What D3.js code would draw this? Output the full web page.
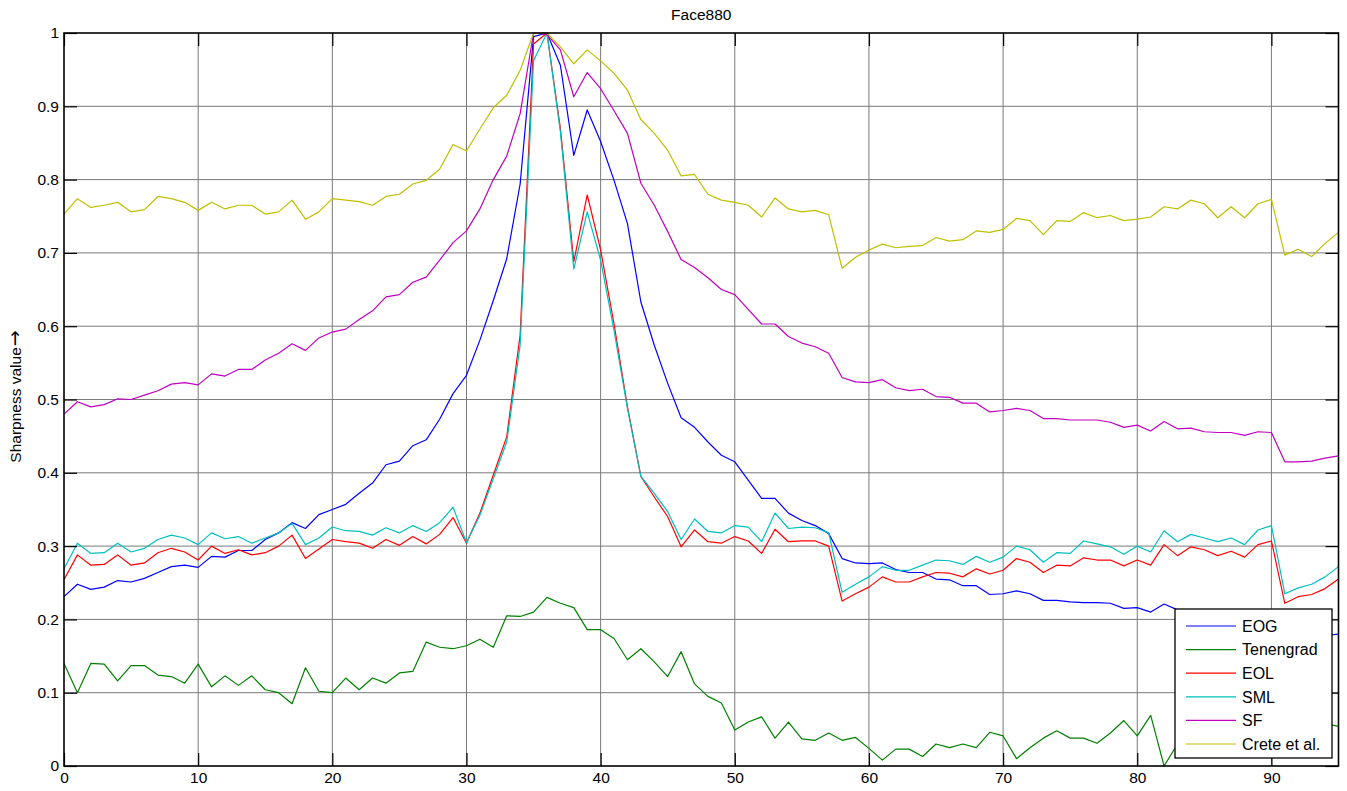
<!DOCTYPE html>
<html>
<head>
<meta charset="utf-8">
<script src="https://cdn.jsdelivr.net/npm/d3@7"></script>
<style>
  html, body { margin: 0; padding: 0; background: #fff; }
  svg text { font-family: "Liberation Sans", Arial, "DejaVu Sans", sans-serif; fill: #000; }
</style>
</head>
<body>
<svg id="chart" width="1347" height="791"></svg>
<script>
// Frame indices along the focus sweep
const frames = d3.range(0, 96);

const eog = [0.231,0.248,0.241,0.244,0.253,0.251,0.256,0.264,0.272,0.274,0.271,0.286,0.285,0.294,0.294,0.309,0.318,0.332,0.324,0.343,
  0.350,0.357,0.372,0.386,0.411,0.416,0.437,0.445,0.473,0.508,0.533,0.581,0.635,0.692,0.794,0.995,1.000,0.956,0.833,0.895,
  0.852,0.799,0.740,0.633,0.574,0.522,0.475,0.462,0.442,0.424,0.415,0.390,0.365,0.365,0.345,0.335,0.328,0.317,0.283,0.277,
  0.276,0.277,0.268,0.264,0.264,0.255,0.254,0.246,0.246,0.234,0.235,0.239,0.235,0.226,0.226,0.224,0.223,0.223,0.222,0.215,
  0.216,0.210,0.221,0.213,0.210,0.212,0.208,0.210,0.205,0.210,0.212,0.172,0.174,0.173,0.178,0.180];

const tenengrad = [0.140,0.100,0.140,0.139,0.116,0.137,0.137,0.124,0.122,0.113,0.139,0.108,0.123,0.110,0.123,0.104,0.100,0.085,0.134,0.102,
  0.100,0.120,0.104,0.120,0.113,0.127,0.129,0.169,0.162,0.160,0.164,0.173,0.162,0.205,0.204,0.210,0.230,0.222,0.216,0.186,
  0.186,0.174,0.145,0.160,0.142,0.122,0.156,0.112,0.095,0.086,0.049,0.060,0.067,0.038,0.060,0.037,0.035,0.045,0.035,0.039,
  0.024,0.008,0.023,0.023,0.013,0.030,0.025,0.030,0.025,0.046,0.041,0.010,0.025,0.038,0.048,0.038,0.038,0.031,0.045,0.062,
  0.041,0.069,0.000,0.030,0.045,0.040,0.050,0.045,0.055,0.050,0.060,0.050,0.055,0.052,0.058,0.054];

const eol = [0.254,0.288,0.274,0.275,0.288,0.274,0.277,0.291,0.297,0.292,0.281,0.300,0.290,0.295,0.288,0.291,0.300,0.315,0.283,0.296,
  0.309,0.306,0.304,0.297,0.309,0.301,0.313,0.303,0.316,0.339,0.304,0.345,0.397,0.449,0.588,0.985,1.000,0.870,0.688,0.779,
  0.704,0.603,0.490,0.395,0.367,0.340,0.299,0.322,0.306,0.304,0.313,0.307,0.290,0.323,0.306,0.307,0.307,0.300,0.225,0.235,
  0.244,0.258,0.251,0.251,0.258,0.264,0.263,0.258,0.269,0.262,0.267,0.283,0.278,0.264,0.274,0.273,0.284,0.281,0.281,0.273,
  0.281,0.274,0.302,0.287,0.299,0.295,0.287,0.293,0.285,0.302,0.307,0.222,0.231,0.234,0.242,0.255];

const sml = [0.269,0.304,0.290,0.291,0.304,0.292,0.297,0.309,0.315,0.311,0.302,0.318,0.310,0.313,0.304,0.311,0.318,0.331,0.302,0.311,
  0.326,0.321,0.320,0.315,0.325,0.318,0.328,0.320,0.332,0.353,0.305,0.342,0.392,0.442,0.574,0.962,1.000,0.865,0.678,0.756,
  0.690,0.594,0.488,0.395,0.372,0.347,0.309,0.337,0.320,0.318,0.328,0.326,0.306,0.345,0.324,0.326,0.325,0.318,0.237,0.248,
  0.258,0.272,0.267,0.267,0.274,0.281,0.280,0.275,0.286,0.278,0.285,0.300,0.295,0.278,0.291,0.290,0.307,0.303,0.299,0.289,
  0.300,0.292,0.321,0.306,0.316,0.311,0.306,0.311,0.302,0.322,0.328,0.235,0.243,0.248,0.258,0.272];

const sf = [0.480,0.497,0.490,0.493,0.501,0.500,0.506,0.512,0.521,0.523,0.520,0.535,0.532,0.541,0.541,0.554,0.563,0.576,0.567,0.584,
  0.592,0.596,0.609,0.621,0.640,0.643,0.660,0.667,0.690,0.714,0.730,0.760,0.800,0.832,0.890,1.000,0.998,0.977,0.913,0.946,
  0.924,0.894,0.863,0.795,0.765,0.729,0.691,0.680,0.666,0.650,0.643,0.623,0.603,0.603,0.586,0.577,0.572,0.563,0.530,0.524,
  0.523,0.527,0.516,0.512,0.514,0.504,0.503,0.495,0.495,0.483,0.485,0.488,0.485,0.474,0.474,0.472,0.472,0.472,0.469,0.462,
  0.465,0.457,0.470,0.460,0.461,0.456,0.455,0.455,0.451,0.456,0.455,0.415,0.415,0.416,0.420,0.423];

const crete = [0.753,0.774,0.762,0.765,0.769,0.756,0.759,0.777,0.774,0.769,0.758,0.769,0.760,0.765,0.765,0.753,0.756,0.772,0.746,0.756,
  0.774,0.772,0.770,0.765,0.777,0.780,0.794,0.799,0.814,0.848,0.839,0.869,0.898,0.915,0.949,1.000,1.000,0.981,0.958,0.977,
  0.962,0.945,0.922,0.882,0.863,0.840,0.805,0.807,0.780,0.772,0.769,0.765,0.749,0.775,0.760,0.756,0.758,0.752,0.679,0.694,
  0.704,0.712,0.707,0.709,0.710,0.721,0.716,0.718,0.730,0.728,0.732,0.747,0.744,0.725,0.744,0.743,0.755,0.748,0.751,0.744,
  0.746,0.749,0.763,0.760,0.772,0.767,0.748,0.763,0.748,0.767,0.773,0.697,0.705,0.695,0.713,0.728];

const seriesNames = ["EOG", "Tenengrad", "EOL", "SML", "SF", "Crete et al."];
const seriesValues = [eog, tenengrad, eol, sml, sf, crete];
const seriesColors = ["#0000ff", "#008000", "#ff0000", "#00bfbf", "#bf00bf", "#bfbf00"];

const xTicks = [0, 10, 20, 30, 40, 50, 60, 70, 80, 90];
const yTicks = [0, 0.1, 0.2, 0.3, 0.4, 0.5, 0.6, 0.7, 0.8, 0.9, 1];
const yTickLabels = ["0", "0.1", "0.2", "0.3", "0.4", "0.5", "0.6", "0.7", "0.8", "0.9", "1"];

const titleText = "Face880";
const yLabelText = "Sharpness value";
const yLabelArrow = "\u2192";

// Plot frame
const svg = d3.select("#chart");
const plotL = 64, plotR = 1338.5, plotT = 33, plotB = 766;
const fontSize = 15.5;

const x = d3.scaleLinear().domain([0, 95]).range([plotL, plotR]);
const y = d3.scaleLinear().domain([0, 1]).range([plotB, plotT]);

// Grid lines
const grid = svg.append("g").attr("class", "grid");
grid.selectAll("line.v").data(xTicks.filter(d => d > 0)).join("line")
  .attr("x1", d => x(d)).attr("x2", d => x(d))
  .attr("y1", plotT).attr("y2", plotB)
  .attr("stroke", "#7a7a7a").attr("stroke-width", 1);
grid.selectAll("line.h").data(yTicks.filter(d => d > 0 && d < 1)).join("line")
  .attr("x1", plotL).attr("x2", plotR)
  .attr("y1", d => y(d)).attr("y2", d => y(d))
  .attr("stroke", "#7a7a7a").attr("stroke-width", 1);

// Series lines
const line = d3.line().x((d, i) => x(frames[i])).y(d => y(d));
svg.append("g").selectAll("path").data(seriesValues).join("path")
  .attr("d", d => line(d))
  .attr("fill", "none")
  .attr("stroke", (d, i) => seriesColors[i])
  .attr("stroke-width", 1.2)
  .attr("stroke-linejoin", "round");

// Axes with inward ticks
const tickLen = 13;
const xAxisB = d3.axisBottom(x).tickValues(xTicks).tickSize(-tickLen).tickPadding(6).tickFormat(d3.format("d"));
const xAxisT = d3.axisTop(x).tickValues(xTicks).tickSize(-tickLen).tickFormat("");
const yAxisL = d3.axisLeft(y).tickValues(yTicks).tickSize(-tickLen).tickPadding(5).tickFormat((d, i) => yTickLabels[i]);
const yAxisR = d3.axisRight(y).tickValues(yTicks).tickSize(-tickLen).tickFormat("");

function styleAxis(g) {
  g.select(".domain").remove();
  g.selectAll(".tick line").attr("stroke", "#000").attr("stroke-width", 1.2);
  g.selectAll(".tick text").attr("font-size", fontSize).attr("fill", "#000")
    .attr("font-family", "'Liberation Sans', Arial, sans-serif");
}
svg.append("g").attr("transform", `translate(0,${plotB})`).call(xAxisB).call(styleAxis);
svg.append("g").attr("transform", `translate(0,${plotT})`).call(xAxisT).call(styleAxis);
svg.append("g").attr("transform", `translate(${plotL},0)`).call(yAxisL).call(styleAxis);
svg.append("g").attr("transform", `translate(${plotR},0)`).call(yAxisR).call(styleAxis);

// Axes box
svg.append("rect")
  .attr("x", plotL).attr("y", plotT)
  .attr("width", plotR - plotL).attr("height", plotB - plotT)
  .attr("fill", "none").attr("stroke", "#000").attr("stroke-width", 1.6);

// Title
svg.append("text")
  .attr("x", (plotL + plotR) / 2).attr("y", 20)
  .attr("text-anchor", "middle")
  .attr("font-size", fontSize)
  .text(titleText);

// Y axis label with a full-size arrow glyph
const yLabel = svg.append("text")
  .attr("transform", `translate(21,${(plotT + plotB) / 2 - 3}) rotate(-90)`)
  .attr("text-anchor", "middle")
  .attr("font-size", fontSize);
yLabel.append("tspan").text(yLabelText);
yLabel.append("tspan")
  .style("font-family", "'DejaVu Sans', sans-serif")
  .style("font-size", "19px")
  .attr("dx", 1)
  .text(yLabelArrow);

// Legend
const lg = { x: 1175, y: 609, w: 157, h: 149, rowStart: 626, rowGap: 23.6 };
const legend = svg.append("g");
legend.append("rect")
  .attr("x", lg.x).attr("y", lg.y).attr("width", lg.w).attr("height", lg.h)
  .attr("fill", "#fff").attr("stroke", "#000").attr("stroke-width", 1.3);
const rows = legend.selectAll("g.row").data(seriesNames).join("g")
  .attr("transform", (d, i) => `translate(0,${lg.rowStart + i * lg.rowGap})`);
rows.append("line")
  .attr("x1", 1186).attr("x2", 1236).attr("y1", 0).attr("y2", 0)
  .attr("stroke", (d, i) => seriesColors[i]).attr("stroke-width", 1.2);
rows.append("text")
  .attr("x", 1242).attr("y", 0).attr("dy", "0.36em")
  .attr("font-size", 16)
  .text(d => d);
</script>
</body>
</html>
